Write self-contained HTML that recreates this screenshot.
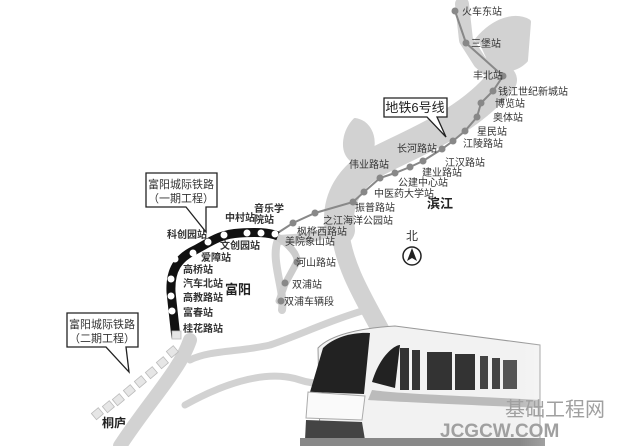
<!DOCTYPE html>
<html><head><meta charset="utf-8"><style>
html,body{margin:0;padding:0;background:#fff}
svg{display:block}
text{font-family:"Liberation Sans","Noto Sans CJK SC",sans-serif;fill:#333}
.s{font-size:10px}
.b{font-size:10px;font-weight:bold;fill:#222}
</style></head><body>
<svg width="640" height="446" viewBox="0 0 640 446" xmlns="http://www.w3.org/2000/svg">
<rect width="640" height="446" fill="#fff"/>
<defs>
<linearGradient id="fade" x1="0" x2="1"><stop offset="0.5" stop-color="#fff" stop-opacity="0"/><stop offset="1" stop-color="#fff" stop-opacity="1"/></linearGradient>
</defs>
<g fill="none" stroke="#d2d2d2" stroke-linecap="round" stroke-linejoin="round">
<path d="M462 4 L466 40 L480 62 L500 80" stroke-width="14"/>
<path d="M478 40 C495 20 515 15 528 22 L525 60 C515 70 500 72 488 62" fill="#d2d2d2" stroke-width="6"/>
<path d="M502 80 C470 120 420 140 380 160 C350 175 335 200 340 230" stroke-width="30"/>
<path d="M340 230 C345 280 380 320 405 380 L412 430" stroke-width="18"/>
<path d="M338 225 C320 240 300 238 280 240" stroke-width="10"/>
<path d="M278 240 C270 260 285 290 282 310" stroke-width="8"/>
<path d="M372 308 C330 320 300 335 270 345 C240 352 210 350 190 360" stroke-width="7"/>
<path d="M395 360 C360 375 330 390 300 380 C270 370 230 380 185 405" stroke-width="7"/>
<path d="M190 340 C180 370 150 400 120 446" stroke-width="14"/>
<path d="M355 120 C345 130 340 150 352 160 L372 150 C375 135 368 122 355 120Z" fill="#d2d2d2" stroke-width="4"/>
</g>
<path d="M455 11 L466 43 L503 76 L493 91 L481 103 L477 117 L465 131 L453 141 L442 149 L423 161 L410 167 L395 173 L380 178 L364 192 L353 202 L315 213 L293 223 L276 234" fill="none" stroke="#888" stroke-width="2"/>
<g fill="#888">
<circle cx="455" cy="11" r="3.5"/><circle cx="466" cy="43" r="3.5"/><circle cx="503" cy="76" r="3.5"/><circle cx="493" cy="91" r="3.5"/><circle cx="481" cy="103" r="3.5"/><circle cx="477" cy="117" r="3.5"/><circle cx="465" cy="131" r="3.5"/><circle cx="453" cy="141" r="3.5"/><circle cx="442" cy="149" r="3.5"/><circle cx="423" cy="161" r="3.5"/><circle cx="410" cy="167" r="3.5"/><circle cx="395" cy="173" r="3.5"/><circle cx="380" cy="178" r="3.5"/><circle cx="364" cy="192" r="3.5"/><circle cx="353" cy="202" r="3.5"/><circle cx="315" cy="213" r="3.5"/><circle cx="293" cy="223" r="3.5"/>
</g>
<path d="M276 236 C290 245 298 255 297 262 L285 284 L279 301" fill="none" stroke="#ccc" stroke-width="7" stroke-linecap="round"/>
<g fill="#888"><circle cx="297" cy="262" r="3.5"/><circle cx="285" cy="283" r="3.5"/><circle cx="281" cy="301" r="3.5"/></g>
<path d="M176 338 L171 292 C170 270 178 258 195 250 C210 242 220 234 240 233 C255 232 268 232 278 236" fill="none" stroke="#111" stroke-width="9" stroke-linejoin="round"/>
<g fill="#fff"><circle cx="175" cy="259" r="3.5"/><circle cx="193" cy="253" r="3.5"/><circle cx="208" cy="242" r="3.5"/><circle cx="224" cy="235" r="3.5"/><circle cx="247" cy="233" r="3.5"/><circle cx="261" cy="233" r="3.5"/><circle cx="275" cy="234" r="3.5"/><circle cx="171" cy="279" r="3.5"/><circle cx="171" cy="296" r="3.5"/><circle cx="172" cy="311" r="3.5"/></g>
<g fill="#e6e6e6" stroke="#bbb" stroke-width="0.8">
<rect x="172" y="331" width="9" height="8"/><rect x="168" y="348" width="9" height="8" transform="rotate(-40 172 352)"/><rect x="158" y="359" width="9" height="8" transform="rotate(-40 162 363)"/><rect x="147" y="369" width="9" height="8" transform="rotate(-40 151 373)"/><rect x="136" y="378" width="9" height="8" transform="rotate(-40 140 382)"/><rect x="125" y="387" width="9" height="8" transform="rotate(-40 129 391)"/><rect x="114" y="396" width="9" height="8" transform="rotate(-40 118 400)"/><rect x="104" y="403" width="9" height="8" transform="rotate(-40 108 407)"/><rect x="93" y="410" width="9" height="8" transform="rotate(-40 97 414)"/>
</g>
<g fill="#fff" stroke="#222" stroke-width="1.3">
<path d="M384 98 H447 V117 H437 L446 137 L427 117 H384 Z"/>
<path d="M146 173 H217 V207 H206 L206 232 L186 207 H146 Z"/>
<path d="M67 313 H138 V347 H126 L129 372 L106 347 H67 Z"/>
</g>
<text x="415" y="112" font-size="13" text-anchor="middle" style="fill:#222">地铁6号线</text>
<text x="181" y="188" font-size="11" text-anchor="middle">富阳城际铁路</text>
<text x="181" y="202" font-size="11" text-anchor="middle">（一期工程）</text>
<text x="102" y="328" font-size="11" text-anchor="middle">富阳城际铁路</text>
<text x="102" y="342" font-size="11" text-anchor="middle">（二期工程）</text>
<g class="s">
<text x="462" y="15">火车东站</text><text x="471" y="47">三堡站</text><text x="473" y="79">丰北站</text>
<text x="498" y="95">钱江世纪新城站</text><text x="495" y="107">博览站</text><text x="493" y="121">奥体站</text>
<text x="477" y="135">星民站</text><text x="463" y="147">江陵路站</text><text x="397" y="152">长河路站</text>
<text x="445" y="166">江汉路站</text><text x="422" y="176">建业路站</text><text x="398" y="186">公建中心站</text>
<text x="349" y="168">伟业路站</text><text x="374" y="197">中医药大学站</text><text x="355" y="211">振普路站</text>
<text x="323" y="224">之江海洋公园站</text><text x="297" y="235">枫桦西路站</text><text x="285" y="245">美院象山站</text>
<text x="296" y="266">河山路站</text><text x="292" y="288">双浦站</text><text x="284" y="305">双浦车辆段</text>
</g>
<text x="427" y="208" class="b" style="font-size:13px">滨江</text>
<text x="412" y="240" font-size="12" text-anchor="middle">北</text>
<circle cx="412" cy="256" r="9" fill="#fff" stroke="#222" stroke-width="1.5"/>
<path d="M412 248 L417 261 L412 258 L407 261Z" fill="#222"/>
<g class="b">
<text x="167" y="238">科创园站</text><text x="225" y="221">中村站</text><text x="254" y="212">音乐学</text><text x="254" y="223">院站</text>
<text x="220" y="249">文创园站</text><text x="201" y="261">爱障站</text><text x="183" y="273">高桥站</text><text x="183" y="287">汽车北站</text>
<text x="183" y="301">高教路站</text><text x="183" y="316">富春站</text><text x="183" y="332">桂花路站</text>
</g>
<text x="225" y="294" style="font-size:13px;font-weight:bold;fill:#222">富阳</text>
<text x="102" y="427" style="font-size:12px;font-weight:bold;fill:#222">桐庐</text>
<g>
<path d="M318 348 C330 335 360 328 395 326 L540 345 L540 440 L320 440 Z" fill="#f2f2f2" stroke="#999" stroke-width="1"/>
<path d="M323 348 C335 336 355 332 370 333 L364 394 L310 392 Z" fill="#222"/>
<path d="M308 392 L365 396 L362 420 L306 418 Z" fill="#fafafa" stroke="#aaa"/>
<path d="M306 420 L362 422 L365 440 L305 440 Z" fill="#444"/>
<path d="M372 382 C380 355 395 345 400 345 L395 388 Z" fill="#222"/>
<path d="M368 400 C400 402 470 405 540 408 L540 400 C470 396 400 394 372 390 Z" fill="#bbb"/>
<rect x="400" y="348" width="9" height="42" fill="#333"/><rect x="412" y="350" width="8" height="40" fill="#333"/>
<rect x="427" y="352" width="25" height="38" fill="#333"/><rect x="455" y="354" width="20" height="36" fill="#333"/>
<rect x="480" y="356" width="8" height="33" fill="#444"/><rect x="492" y="358" width="8" height="31" fill="#444"/><rect x="503" y="360" width="14" height="29" fill="#555"/>
<rect x="300" y="438" width="245" height="8" fill="#888"/>
<rect x="400" y="320" width="240" height="126" fill="url(#fade)"/>
</g>
<text x="505" y="416" style="font-size:20px;fill:#a0a0a0">基础工程网</text>
<text x="440" y="437" style="font-size:19px;font-weight:bold;fill:#a0a0a0">JCGCW.COM</text>
</svg>
</body></html>
